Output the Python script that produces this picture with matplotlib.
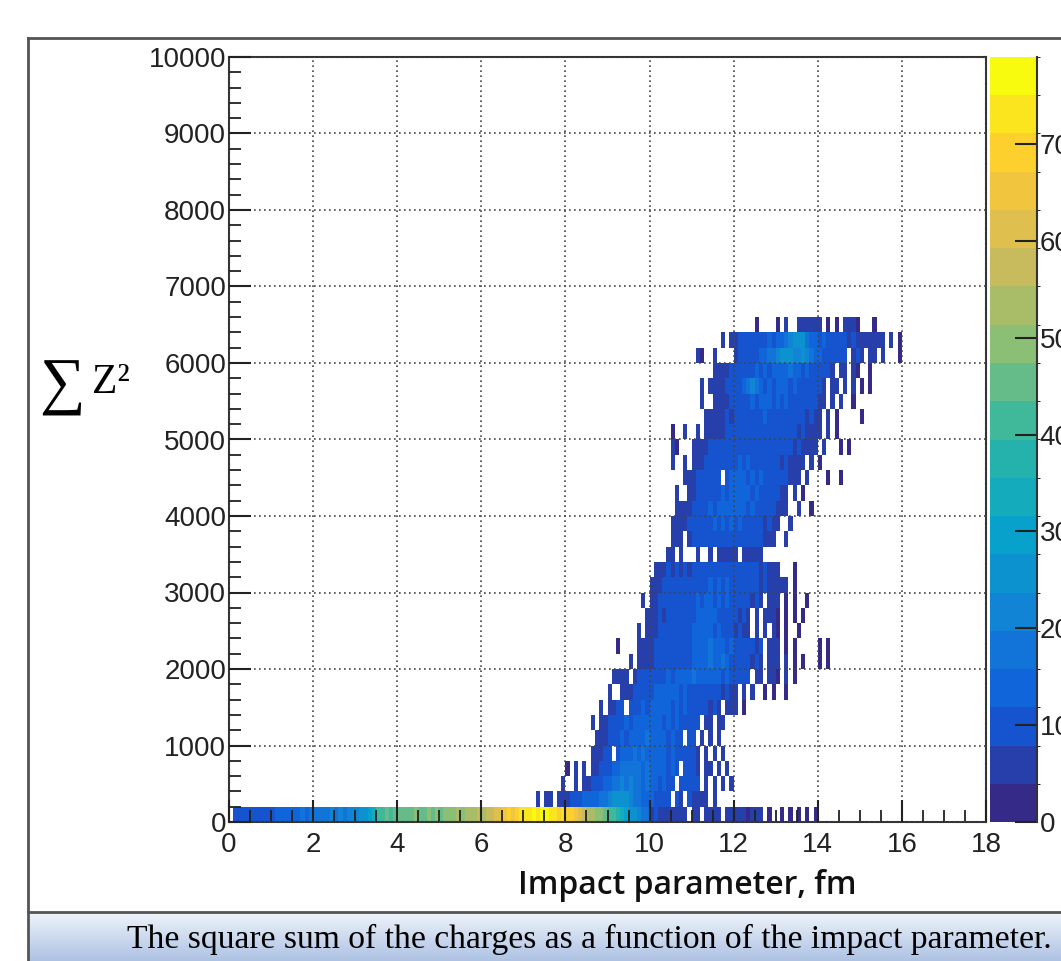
import numpy as np
import matplotlib
matplotlib.use('Agg')
from matplotlib import pyplot as plt
from matplotlib.colors import LinearSegmentedColormap, BoundaryNorm
from matplotlib.lines import Line2D

# ROOT "kBird" palette
bird_stops = [0.0, 0.125, 0.25, 0.375, 0.5, 0.625, 0.75, 0.875, 1.0]
bird_red = [0.2082, 0.0592, 0.0780, 0.0232, 0.1802, 0.5301, 0.8186, 0.9956, 0.9764]
bird_green = [0.1664, 0.3599, 0.5041, 0.6419, 0.7178, 0.7492, 0.7328, 0.7862, 0.9832]
bird_blue = [0.5293, 0.8684, 0.8385, 0.7914, 0.6425, 0.4662, 0.3499, 0.1968, 0.0539]

# histogram bins: 0.1 fm in x, 200 in sum Z^2
x_bin = 0.1
y_bin = 200
z_max = 79
# a code char stands for a bin count: count = 2 * (index + 1), ' ' = empty bin
code_chars = "123456789abcdefghijklmnopqrstuvwxyzABCD"

# one entry per y row (row i = 200*i .. 200*(i+1)): first x of the string, bin codes
row_starts = [0.1, 7.3, 7.9, 8.0, 8.6, 8.7, 8.6, 8.8, 9.0, 9.1,
              9.5, 9.2, 9.7, 9.9, 9.8, 10.0, 10.1, 10.4, 10.5, 10.5,
              10.6, 10.6, 10.8, 10.5, 10.5, 10.5, 11.3, 11.2, 11.2, 11.5,
              11.1, 11.7, 12.5]
row_codes = [
    "445454545" + "5666767878" + "8989a9a9aa" + "bcdfhklmlm" + "mnmnonmono"
    + "nopoqpqrqs" + "rtsuvwyxzA" + "BACBDCBAzA" + "zyxvtrqpon" + "lkigfdca98"
    + "343332333 " + "32 3232 23" + "2321232 1 " + " 1 1 1 1 1",
    "2 22 33" + "3445667789" + "acddca9876" + "65444 43 4" + "3333 2",
    "2" + "  3 334456" + "789a9a9878" + "765654 545" + "44 3 3 2 2",
    "1 2 2 3344" + "5678989878" + "7676565 54" + "43 33 2 2 ",
    "2334" + "4 56768787" + "7676565454" + "43 3 3 2",
    "233" + "4456567678" + "76765654 4" + "4 3 3 2",
    "2 33" + "4445656767" + "6765656545" + "44 33 32",
    "2 " + "3344 44565" + "6767656565" + "4444343 33" + "2 1",
    "2  2334445" + "5676767565" + "5454444343" + "3 2 2  1 1" + "  1",
    "2333 3444" + "4545656767" + "8767676565" + "4444 33 32" + "1 2 1",
    "2 233" + "3444454545" + "6767867865" + "4444343 33" + "3 2 1 1   1 1",
    "1    233" + "3444454545" + "6767867656" + "5454434 33" + "2 1 1     1 1",
    "2 3" + "3344454545" + "6767656544" + "3433 3 2 2" + "1 1  1",
    "2" + "3343444444" + "5676765454" + "4343 3 232" + "1 1 1 1",
    "2 " + "3344444444" + "5657656565" + "4444343 32" + "2 1 1  1",
    "2334444444" + "4545656565" + "4544443433" + "232 1",
    "233434343" + "4454545454" + "4544443433" + "2   1",
    "23 2   3  3 333" + "33 33332",
    "233 3" + "4444545454" + "5454444333" + "  2",
    "23334" + "4454565656" + "5654544343" + "3  2",
    "2333" + "4445656767" + "6765654544" + "332" + "  2  1",
    "2  3" + "3444545656" + "7676565454" + "433" + " 2 1",
    "23" + "3444545 56" + "6765656545" + "444333" + " 2    1  1",
    "2  2 " + "3334444545" + "5656545454" + "4343333" + " 2 1",
    "21   " + "2333444444" + "4545444545" + "4444343333" + " 2   1 1",
    "1  2  2 2333344" + "4444545454" + "4444434333" + "3 2 1",
    "2333343" + "4444545654" + "5454444343" + "3 2 1     1",
    "2  23334" + "4454656765" + "6565454444" + "33 3" + " 2  1",
    "2 233344" + "4579a86565" + "6765654544" + "43 33 3 2 " + "1 1",
    "23334" + "4454565656" + "7678675654" + "4443 33 31" + "  1",
    "21  2    " + "3444556789" + "acdcabcb87" + "6545444 34" + "3 32" + " 2   1",
    "2 " + "33444454565" + "678acdc976" + "5645444343" + "333232" + " 2 1",
    "1    1 2  233323 1 1 2321   1",
]

x_ticks = list(range(0, 19, 2))
y_ticks = list(range(0, 10001, 1000))
z_ticks = list(range(0, 80, 10))

# fill the 2D histogram
x_edges = np.linspace(0, 18, 181)
y_edges = np.linspace(0, 10000, 51)
counts = np.zeros((50, 180))
for i in range(len(row_codes)):
    k0 = int(round(row_starts[i] / x_bin))
    for j, c in enumerate(row_codes[i]):
        if c != ' ':
            counts[i, k0 + j] = 2 * (code_chars.index(c) + 1)

W, H = 1061, 961
fig = plt.figure(figsize=(W / 100, H / 100), dpi=100)
fig.patch.set_facecolor('white')

cmap = LinearSegmentedColormap.from_list(
    'bird', list(zip(bird_stops, zip(bird_red, bird_green, bird_blue))))
levels = np.linspace(0, z_max, 21)
norm = BoundaryNorm(levels, 256)

ax = fig.add_axes([229 / W, 139 / H, 757 / W, 765 / H])
mesh = ax.pcolormesh(x_edges, y_edges, np.ma.masked_equal(counts, 0),
                     cmap=cmap, norm=norm)
ax.set_xlim(0, 18)
ax.set_ylim(0, 10000)
ax.set_xticks(x_ticks)
ax.set_xticks(np.arange(0, 18.01, 0.5), minor=True)
ax.set_yticks(y_ticks)
ax.set_yticks(np.arange(0, 10001, 200), minor=True)
ax.grid(True, which='major', linestyle=(0, (1, 2)), color='#444444', lw=1.2)
ax.set_axisbelow(False)
ax.tick_params(which='major', direction='in', length=16, width=1.5,
               color='#222222', labelsize=20, top=False, right=False)
ax.tick_params(which='minor', direction='in', length=8.5, width=1.3,
               color='#222222', top=False, right=False)
ax.tick_params(axis='x', pad=7)
ax.tick_params(axis='y', pad=2)
for lab in ax.get_xticklabels() + ax.get_yticklabels():
    lab.set_family('Liberation Sans')
    lab.set_color('#222222')
for s in ax.spines.values():
    s.set_color('#333333')
    s.set_linewidth(1.5)

# colour palette on the right
cax = fig.add_axes([990 / W, 139 / H, 47 / W, 765 / H])
cb = fig.colorbar(mesh, cax=cax, ticks=z_ticks)
cb.outline.set_visible(False)
cax.tick_params(direction='in', length=16, width=1.5, color='#222222',
                labelsize=20, pad=2)
for lab in cax.get_yticklabels():
    lab.set_family('Liberation Sans')
    lab.set_color('#222222')
cax.plot([1, 1], [0, 1], transform=cax.transAxes, color='#333333', lw=1.5,
         clip_on=False)

# axis titles
fig.text(687 / W, 1 - 886 / H, 'Impact parameter, fm', family='Open Sans',
         weight='semibold', size=23, ha='center', va='center', color='#111111')
fig.text(62 / W, 1 - 388 / H, '\u2211', family=['Liberation Serif', 'DejaVu Serif'],
         size=46, ha='center', va='center')
fig.text(111 / W, 1 - 383 / H, 'Z\u00b2', family='Liberation Serif',
         size=30, ha='center', va='center')

# outer frame and caption box
fig.add_artist(Line2D([28 / W, 28 / W], [0, 1 - 38 / H], color='#555555', lw=2))
fig.add_artist(Line2D([28 / W, 1], [1 - 38 / H, 1 - 38 / H], color='#555555', lw=2))
cap = fig.add_axes([28 / W, 0, 1 - 28 / W, 49 / H])
grad = np.linspace(0, 1, 50).reshape(-1, 1)
cap_cmap = LinearSegmentedColormap.from_list('cap', ['#eef3fa', '#aec3e4'])
cap.imshow(grad, aspect='auto', cmap=cap_cmap, extent=[0, 1, 0, 1])
cap.axis('off')
fig.add_artist(Line2D([28 / W, 1], [1 - 912 / H, 1 - 912 / H], color='#555555', lw=2))
fig.text(589 / W, 1 - 939 / H,
         'The square sum of the charges as a function of the impact parameter.',
         family='Liberation Serif', size=24.2, ha='center', va='center')

fig.savefig('out.png', dpi=100)
